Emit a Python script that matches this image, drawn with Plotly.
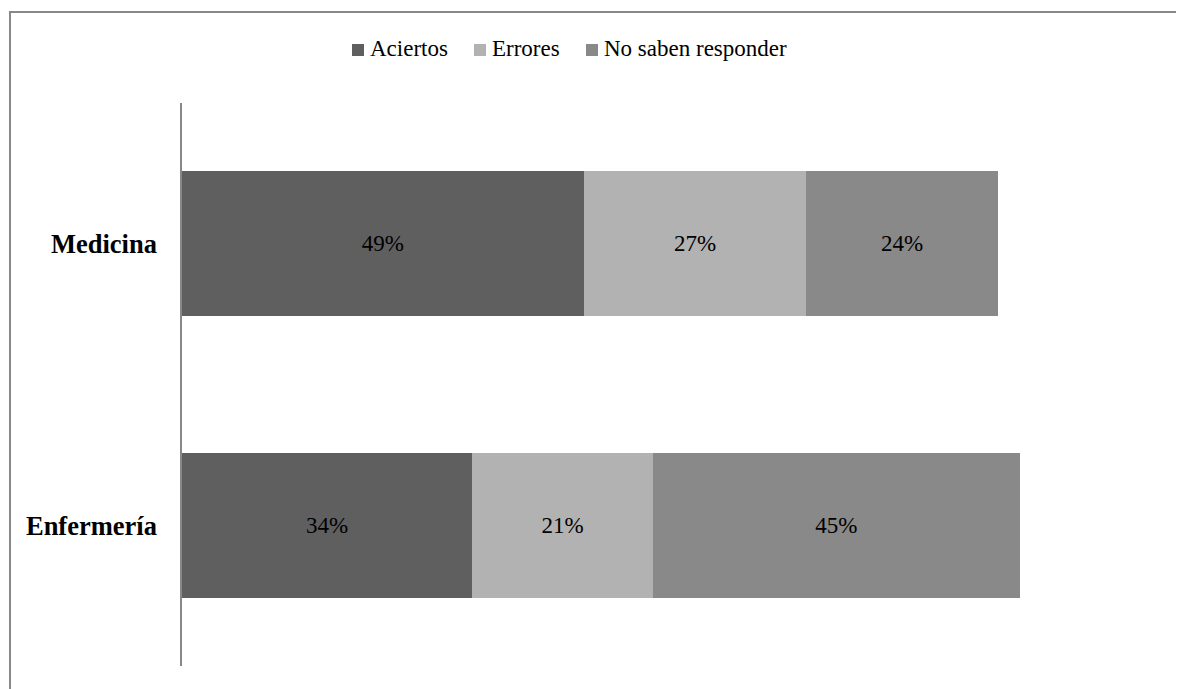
import plotly.graph_objects as go

categories = ["Enfermería", "Medicina"]
series_names = ["Aciertos", "Errores", "No saben responder"]
series_colors = ["#5f5f5f", "#b2b2b2", "#898989"]
# bar lengths (percent units), and their printed labels
aciertos = [35.6, 49.3]
errores = [22.2, 27.3]
no_saben = [45.0, 23.5]
aciertos_lbl = ["34%", "49%"]
errores_lbl = ["21%", "27%"]
no_saben_lbl = ["45%", "24%"]

values = [aciertos, errores, no_saben]
labels = [aciertos_lbl, errores_lbl, no_saben_lbl]

FONT = "Liberation Serif, Times New Roman, serif"
OFF = 8  # page body margin
W, H = 1184 - OFF, 689 - OFF
L, R, T, B = 182 - OFF, 24, 103 - OFF, 23
pw, ph = W - L - R, H - T - B

def px(x):
    return (x - OFF - L) / pw

def py(y):
    return (H - B - (y - OFF)) / ph

fig = go.Figure()
for name, col, v, lab in zip(series_names, series_colors, values, labels):
    fig.add_trace(go.Bar(
        y=categories, x=v, name=name, orientation="h",
        marker=dict(color=col, line=dict(width=0)),
        text=lab, textposition="inside", insidetextanchor="middle",
        textfont=dict(family=FONT, size=23, color="#000000"),
        showlegend=False, hoverinfo="skip",
    ))

shapes = [dict(type="rect", xref="paper", yref="paper",
               x0=px(10), x1=px(1200), y0=py(720), y1=py(12),
               line=dict(color="#888888", width=2), fillcolor="rgba(0,0,0,0)",
               layer="below")]
annotations = []
marker_x = [352, 474, 586]
text_x = [368, 490, 602]
for name, col, mx, tx in zip(series_names, series_colors, marker_x, text_x):
    shapes.append(dict(type="rect", xref="paper", yref="paper",
                       x0=px(mx), x1=px(mx + 12), y0=py(56), y1=py(44),
                       fillcolor=col, line=dict(width=0)))
    annotations.append(dict(xref="paper", yref="paper", x=px(tx), y=py(49),
                            xanchor="left", yanchor="middle", showarrow=False,
                            text=name, font=dict(family=FONT, size=23, color="#000000")))

fig.update_layout(
    width=W, height=H, template="none",
    margin=dict(l=L, r=R, t=T, b=B),
    paper_bgcolor="white", plot_bgcolor="white",
    barmode="stack", bargap=0.485,
    xaxis=dict(range=[0, 120], visible=False, showgrid=False, zeroline=False),
    yaxis=dict(categoryorder="array", categoryarray=categories,
               showline=True, linecolor="#888888", linewidth=1.5,
               showgrid=False, zeroline=False, ticks="",
               ticklabelstandoff=18,
               tickfont=dict(family=FONT, size=26.5, color="#000000",
                             weight="bold")),
    shapes=shapes, annotations=annotations,
)

fig.write_html("out.html")
